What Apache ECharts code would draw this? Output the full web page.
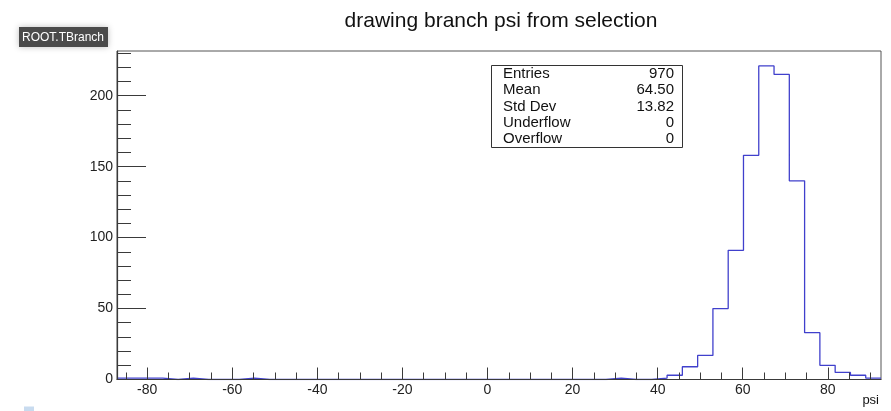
<!DOCTYPE html>
<html>
<head>
<meta charset="utf-8">
<script src="https://cdn.jsdelivr.net/npm/echarts@6/dist/echarts.min.js"></script>
<style>
html,body{margin:0;padding:0;background:#fff;}
#chart{width:891px;height:411px;}
</style>
</head>
<body>
<div id="chart"></div>
<script>
// Histogram definition (50 bins from xMin to xMax)
const xMin = -87.1;
const xMax = 92.5;
const binCounts = [
  1, 1, 1, 0, 1, 0, 0, 0, 1, 0,
  0, 0, 0, 0, 0, 0, 0, 0, 0, 0,
  0, 0, 0, 0, 0, 0, 0, 0, 0, 0,
  0, 0, 1, 0, 0, 1, 3, 9, 17, 50,
  91, 158, 221, 215, 140, 33, 10, 5, 3, 1
];
const xMajorTicks = [-80, -60, -40, -20, 0, 20, 40, 60, 80];
const xMinorTicks = [-85, -75, -70, -65, -55, -50, -45, -35, -30, -25, -15, -10, -5, 5, 10, 15, 25, 30, 35, 45, 50, 55, 65, 70, 75, 85, 90];
const yMax = 231.5;
const yMajorTicks = [0, 50, 100, 150, 200];
const yMinorTicks = [10, 20, 30, 40, 60, 70, 80, 90, 110, 120, 130, 140, 160, 170, 180, 190, 210, 220, 230];
const statNames = ['Entries', 'Mean', 'Std Dev', 'Underflow', 'Overflow'];
const statValues = ['970', '64.50', '13.82', '0', '0'];
const titleText = 'drawing branch psi from selection';
const xTitle = 'psi';
const tagText = 'ROOT.TBranch';

const nBins = binCounts.length;
const binW = (xMax - xMin) / nBins;
const stepData = binCounts.map((c, k) => [xMin + k * binW, c]);
stepData.push([xMax, binCounts[nBins - 1]]);

const FONT = '"Liberation Sans", Arial, Helvetica, sans-serif';
const axisCol = '#3a3a3a';

const chart = echarts.init(document.getElementById('chart'), null, {renderer: 'canvas'});

const statTexts = [];
statNames.forEach((n, i) => {
  statTexts.push({type: 'text', x: 503, y: 74 + i * 16.2,
    style: {text: n, font: '15px ' + FONT, fill: '#111', textAlign: 'left', textVerticalAlign: 'middle'}});
  statTexts.push({type: 'text', x: 674, y: 74 + i * 16.2,
    style: {text: statValues[i], font: '15px ' + FONT, fill: '#111', textAlign: 'right', textVerticalAlign: 'middle'}});
});

chart.setOption({
  animation: false,
  backgroundColor: '#fff',
  grid: {left: 117, right: 10, top: 51, bottom: 31.5, show: true, borderColor: '#555', borderWidth: 1, backgroundColor: 'transparent'},
  xAxis: [{
    type: 'value', min: xMin, max: xMax, position: 'bottom', z: 3,
    axisLine: {show: true, onZero: false, lineStyle: {color: axisCol, width: 1.2}},
    axisTick: {show: true, inside: true, length: 12, customValues: xMajorTicks, lineStyle: {color: axisCol}},
    axisLabel: {show: true, customValues: xMajorTicks, margin: 4, fontSize: 14, fontFamily: FONT, color: '#222'},
    splitLine: {show: false}
  }, {
    type: 'value', min: xMin, max: xMax, position: 'bottom', z: 3,
    axisLine: {show: false, onZero: false},
    axisTick: {show: true, inside: true, length: 7, customValues: xMinorTicks, lineStyle: {color: axisCol}},
    axisLabel: {show: false},
    splitLine: {show: false}
  }],
  yAxis: [{
    type: 'value', min: 0, max: yMax, position: 'left', z: 3,
    axisLine: {show: true, onZero: false, lineStyle: {color: axisCol, width: 1.2}},
    axisTick: {show: true, inside: true, length: 29, customValues: yMajorTicks, lineStyle: {color: axisCol}},
    axisLabel: {show: true, customValues: yMajorTicks, margin: 4, fontSize: 14, fontFamily: FONT, color: '#222'},
    splitLine: {show: false}
  }, {
    type: 'value', min: 0, max: yMax, position: 'left', z: 3,
    axisLine: {show: false, onZero: false},
    axisTick: {show: true, inside: true, length: 14, customValues: yMinorTicks, lineStyle: {color: axisCol}},
    axisLabel: {show: false},
    splitLine: {show: false}
  }],
  series: [{
    type: 'line', xAxisIndex: 0, yAxisIndex: 0, step: 'end', z: 1,
    data: stepData, symbol: 'none',
    lineStyle: {color: '#4040cc', width: 1.3},
    silent: true
  }],
  graphic: [
    {type: 'text', x: 501, y: 21, style: {text: titleText, font: '21px ' + FONT, fill: '#111', textAlign: 'center', textVerticalAlign: 'middle'}},
    {type: 'rect', shape: {x: 19, y: 27, width: 89, height: 20}, style: {fill: '#4b4b4b', shadowBlur: 6, shadowColor: 'rgba(0,0,0,0.25)'}},
    {type: 'text', x: 22, y: 37.5, style: {text: tagText, font: '12px ' + FONT, fill: '#fff', textAlign: 'left', textVerticalAlign: 'middle'}},
    {type: 'rect', shape: {x: 24, y: 406.5, width: 10, height: 5}, style: {fill: '#c8dbef'}},
    {type: 'text', x: 879, y: 400, style: {text: xTitle, font: '13px ' + FONT, fill: '#111', textAlign: 'right', textVerticalAlign: 'middle'}},
    {type: 'rect', shape: {x: 491.5, y: 65.5, width: 191, height: 82}, style: {fill: '#fff', stroke: '#333', lineWidth: 1}},
    ...statTexts
  ]
});
</script>
</body>
</html>
